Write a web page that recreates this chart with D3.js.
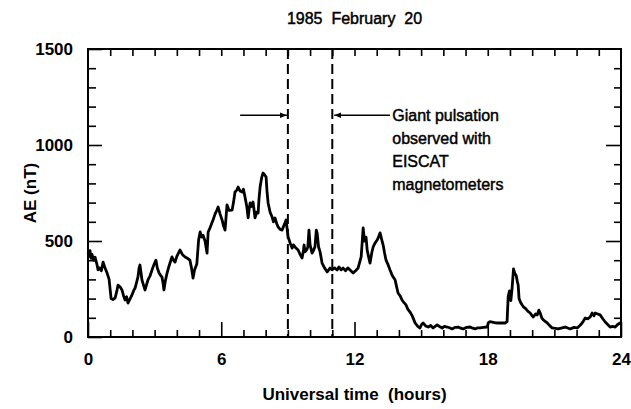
<!DOCTYPE html>
<html>
<head>
<meta charset="utf-8">
<script src="https://cdn.jsdelivr.net/npm/d3@7"></script>
<style>
  body { margin: 0; background: #fff; }
  text { font-family: "Liberation Sans", Arial, sans-serif; fill: #000; }
  .heavy { stroke: #000; stroke-width: 0.45px; }
</style>
</head>
<body>
<div id="chart"></div>
<script>
// AE index, 1985 Feb 20
const hours = [0.00,0.05,0.09,0.14,0.18,0.25,0.32,0.40,0.45,0.52,0.60,0.68,0.75,0.86,0.95,1.04,1.12,1.22,1.30,1.35,1.45,1.53,1.60,1.67,1.74,1.80,1.90,1.98,2.05,2.12,2.20,2.25,2.30,2.34,2.43,2.50,2.57,2.63,2.70,2.80,2.93,3.00,3.06,3.12,3.20,3.27,3.33,3.38,3.42,3.48,3.56,3.65,3.78,3.85,3.92,4.00,4.14,4.25,4.37,4.48,4.59,4.66,4.73,4.80,4.90,4.98,
  5.05,5.12,5.18,5.27,5.36,5.41,5.50,5.63,5.72,5.80,5.86,5.95,6.04,6.10,6.17,6.26,6.35,6.49,6.55,6.62,6.70,6.76,6.85,6.94,7.00,7.07,7.15,7.21,7.25,7.30,7.36,7.43,7.48,7.52,7.60,7.66,7.70,7.75,7.82,7.88,7.95,8.02,8.06,8.11,8.20,8.29,8.35,8.42,8.50,8.56,8.65,8.74,8.82,8.92,8.97,9.01,9.10,9.19,9.25,9.32,9.40,9.46,9.55,9.64,9.70,9.73,
  9.77,9.85,9.90,9.95,10.00,10.09,10.15,10.22,10.28,10.32,10.38,10.45,10.54,10.65,10.77,10.90,11.00,11.10,11.22,11.30,11.40,11.49,11.60,11.70,11.80,11.94,12.05,12.16,12.30,12.35,12.39,12.45,12.52,12.57,12.63,12.70,12.78,12.84,12.93,13.02,13.08,13.15,13.22,13.29,13.35,13.42,13.50,13.60,13.70,13.83,13.90,13.96,14.05,14.14,14.22,14.32,14.40,14.50,14.60,
  14.73,14.85,14.95,15.02,15.09,15.20,15.32,15.43,15.54,15.63,15.72,15.83,15.95,16.05,16.17,16.28,16.40,16.52,16.67,16.78,16.89,17.05,17.21,17.32,17.43,17.55,17.66,17.80,17.97,18.03,18.10,18.20,18.35,18.47,18.62,18.78,18.87,18.92,18.98,19.04,19.10,19.16,19.22,19.28,19.33,19.37,19.41,19.48,19.55,19.62,19.68,19.80,19.91,20.00,20.05,20.15,20.23,20.30,20.36,20.43,20.50,20.60,20.68,20.80,20.90,
  21.05,21.17,21.35,21.49,21.60,21.71,21.88,22.03,22.15,22.25,22.39,22.50,22.61,22.70,22.78,22.84,22.95,23.06,23.18,23.29,23.40,23.51,23.62,23.74,23.85,23.96,24.00];
const aeValues = [440,420,450,410,430,400,415,380,350,360,345,390,365,333,300,200,195,203,240,270,260,245,215,193,210,177,200,219,240,255,290,313,360,375,297,270,245,270,297,320,365,385,400,360,333,320,313,280,245,290,333,370,417,400,390,420,453,430,417,410,400,360,307,350,380,505,
  547,520,530,500,437,547,570,609,640,660,677,640,609,580,557,688,660,661,700,755,765,781,760,755,770,729,680,620,660,698,680,703,660,620,650,646,720,781,830,854,845,833,760,698,650,625,600,620,590,573,560,557,580,609,560,521,490,463,480,469,460,453,430,411,450,479,
  443,455,469,557,480,437,450,470,557,540,470,443,385,360,339,359,350,360,349,365,350,359,345,360,349,333,345,359,417,500,568,500,520,453,420,385,440,469,490,505,520,542,510,479,440,400,380,349,320,297,260,229,215,193,180,167,145,130,110,
  73,55,47,65,73,58,52,60,47,55,63,55,47,55,52,48,42,50,52,46,42,50,52,46,42,48,47,50,52,75,80,78,74,73,74,73,80,210,240,190,260,355,330,320,290,271,200,180,167,155,151,135,125,110,104,120,115,140,125,100,89,80,73,58,47,
  45,42,48,52,47,42,50,47,60,73,99,95,104,125,110,125,120,115,95,78,65,52,55,52,65,73,70];

const xLabels = [0, 6, 12, 18, 24];
const yLabels = [0, 500, 1000, 1500];
const pulsationWindow = [9, 11];
const noteLines = ["Giant pulsation", "observed with", "EISCAT", "magnetometers"];
const titleText = "1985  February  20";
const xTitle = "Universal time  (hours)";
const yTitle = "AE (nT)";

const W = 631, H = 409;
const margin = {top: 49, right: 10, bottom: 72, left: 88};
const iw = W - margin.left - margin.right,
      ih = H - margin.top - margin.bottom;

const x = d3.scaleLinear().domain([0, 24]).range([0, iw]);
const y = d3.scaleLinear().domain([0, 1500]).range([ih, 0]);

const svg = d3.select('#chart').append('svg')
    .attr('width', W).attr('height', H);

svg.append('text')
    .attr('class', 'heavy')
    .attr('x', margin.left + iw / 2).attr('y', 24)
    .attr('text-anchor', 'middle')
    .style('font-size', '16px')
    .style('white-space', 'pre')
    .text(titleText);

const g = svg.append('g').attr('transform', `translate(${margin.left},${margin.top})`);

// ticks, all pointing inward
const hourTicks = d3.range(1, 24);
const minorY = d3.range(100, 1500, 100);

function clean(sel) { sel.select('.domain').remove(); sel.selectAll('line').attr('stroke-width', 1.6); }

g.append('g').attr('transform', `translate(0,${ih})`)
    .call(d3.axisBottom(x).tickValues(hourTicks.filter(h => h % 6)).tickSize(-7).tickFormat(''))
    .call(clean);
g.append('g').attr('transform', `translate(0,${ih})`)
    .call(d3.axisBottom(x).tickValues(xLabels).tickSize(-15).tickPadding(16).tickFormat(d3.format('d')))
    .call(clean)
    .selectAll('text').style('font-size', '17px').style('font-weight', 'bold').attr('font-family', null);
g.append('g')
    .call(d3.axisTop(x).tickValues(hourTicks).tickSize(-7).tickFormat(''))
    .call(clean);

g.append('g')
    .call(d3.axisLeft(y).tickValues(minorY.filter(v => v % 500)).tickSize(-8).tickFormat(''))
    .call(clean);
g.append('g')
    .call(d3.axisLeft(y).tickValues(yLabels).tickSize(-14).tickPadding(15).tickFormat(d3.format('d')))
    .call(clean)
    .selectAll('text').style('font-size', '17px').style('font-weight', 'bold').attr('font-family', null);
g.append('g').attr('transform', `translate(${iw},0)`)
    .call(d3.axisRight(y).tickValues(minorY.filter(v => v % 500)).tickSize(-7).tickFormat(''))
    .call(clean);
g.append('g').attr('transform', `translate(${iw},0)`)
    .call(d3.axisRight(y).tickValues([500, 1000]).tickSize(-15).tickFormat(''))
    .call(clean);

g.selectAll('.tick line').attr('stroke', '#000');

// frame
g.append('rect')
    .attr('width', iw).attr('height', ih)
    .attr('fill', 'none').attr('stroke', '#000').attr('stroke-width', 2);

// data
const line = d3.line().x((d, i) => x(hours[i])).y(d => y(d));
g.append('path')
    .datum(aeValues)
    .attr('fill', 'none').attr('stroke', '#000')
    .attr('stroke-width', 2.8).attr('stroke-linejoin', 'round')
    .attr('d', line);

// pulsation window
g.selectAll('line.win').data(pulsationWindow).enter().append('line')
    .attr('class', 'win')
    .attr('x1', d => x(d)).attr('x2', d => x(d))
    .attr('y1', 0).attr('y2', ih)
    .attr('stroke', '#000').attr('stroke-width', 2)
    .attr('stroke-dasharray', '10,5');

svg.append('defs').append('marker')
    .attr('id', 'head').attr('viewBox', '0 0 10 10')
    .attr('refX', 10).attr('refY', 5)
    .attr('markerWidth', 7).attr('markerHeight', 7)
    .attr('markerUnits', 'userSpaceOnUse')
    .attr('orient', 'auto')
  .append('path').attr('d', 'M0,1L10,5L0,9Z').attr('fill', '#000');

const arrowY = y(1155);
g.append('line')
    .attr('x1', x(6.85)).attr('x2', x(pulsationWindow[0]) - 1)
    .attr('y1', arrowY).attr('y2', arrowY)
    .attr('stroke', '#000').attr('stroke-width', 1.6)
    .attr('marker-end', 'url(#head)');
g.append('line')
    .attr('x1', x(13.6)).attr('x2', x(pulsationWindow[1]) + 2)
    .attr('y1', arrowY).attr('y2', arrowY)
    .attr('stroke', '#000').attr('stroke-width', 1.6)
    .attr('marker-end', 'url(#head)');

g.append('text')
    .attr('class', 'heavy')
    .attr('x', x(13.7)).attr('y', arrowY + 6)
    .style('font-size', '16px')
    .selectAll('tspan').data(noteLines).enter().append('tspan')
    .attr('x', x(13.7)).attr('dy', (d, i) => i ? 23 : 0)
    .text(d => d);

svg.append('text')
    .attr('x', margin.left + iw / 2).attr('y', 400)
    .attr('text-anchor', 'middle')
    .style('font-size', '17px').style('font-weight', 'bold')
    .style('white-space', 'pre')
    .text(xTitle);

svg.append('text')
    .attr('transform', `translate(36,${margin.top + y(750)}) rotate(-90)`)
    .attr('text-anchor', 'middle')
    .style('font-size', '17px').style('font-weight', 'bold')
    .text(yTitle);
</script>
</body>
</html>
